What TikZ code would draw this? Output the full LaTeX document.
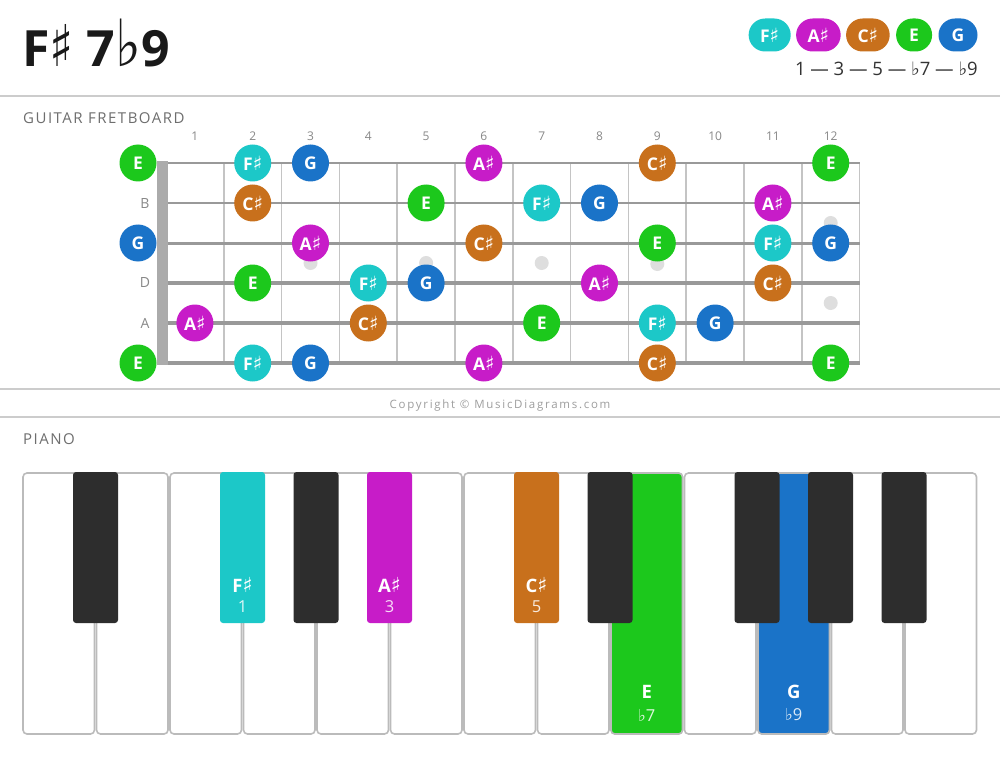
\documentclass[tikz,border=0pt]{standalone}
\usepackage{fontspec}
\setmainfont{Open Sans}
\newfontfamily\symfont{DejaVu Sans}
\usetikzlibrary{positioning}
\newcommand{\shp}{{\symfont\scalebox{1.12}{\char"266F}}}
\newcommand{\flt}{{\symfont\char"266D}}
\definecolor{cF}{HTML}{1CC8C8}
\definecolor{cA}{HTML}{C71CC8}
\definecolor{cC}{HTML}{C8701C}
\definecolor{cE}{HTML}{1CC81C}
\definecolor{cG}{HTML}{1A73C8}
\definecolor{keyblack}{HTML}{2D2D2D}
\definecolor{keyedge}{HTML}{BBBBBB}
\definecolor{rulegray}{HTML}{CCCCCC}
\definecolor{headgray}{HTML}{6E6E6E}
\definecolor{numgray}{HTML}{888888}
\definecolor{stringgray}{HTML}{999999}
\definecolor{fretgray}{HTML}{C4C4C4}
\tikzstyle{note} = [circle, minimum size=37pt, inner sep=0pt, text=white,
    font=\bfseries\fontsize{17.5}{17.5}\selectfont]
\tikzstyle{pill} = [rectangle, rounded corners=16.5pt, minimum height=33pt,
    minimum width=36pt, inner xsep=11.5pt, inner ysep=0pt, text=white,
    font=\bfseries\fontsize{17.5}{17.5}\selectfont]
\tikzstyle{heading} = [anchor=west, inner sep=0pt, text=headgray,
    font=\fontsize{15}{15}\selectfont\addfontfeature{LetterSpace=10}]
\tikzstyle{fretnum} = [text=numgray, inner sep=0pt, font=\fontsize{12}{12}\selectfont]
\tikzstyle{strlbl} = [text=numgray, inner sep=0pt, font=\fontsize{14}{14}\selectfont]
\tikzstyle{sepline} = [draw=rulegray, line width=2pt]
\tikzstyle{whitekey} = [draw=keyedge, line width=1.6pt, rounded corners=4pt]
\tikzstyle{blackkey} = [rounded corners=3pt]
\tikzstyle{keylbl} = [text=white, inner sep=0pt, font=\bfseries\fontsize{18.5}{18.5}\selectfont]
\tikzstyle{keynum} = [text=white, text opacity=0.85, inner sep=0pt, font=\fontsize{16.5}{16.5}\selectfont]

\begin{document}
\begin{tikzpicture}[x=1pt, y=-1pt]

    \useasboundingbox[fill=white] (0,0) rectangle (1000,759);

    % Title and legend
    \node [anchor=base west, inner sep=0pt, text=black!90,
        font=\bfseries\fontsize{50}{50}\selectfont] (title) at (22,67)
        {F{\symfont\scalebox{1}[1.15]{\char"266F}} 7{\symfont\scalebox{1.1}[1.3]{\char"266D}}9};
    \node [pill, fill=cG, minimum width=39pt] (lgG) at (958,35) {G};
    \node [pill, fill=cE, left=6pt of lgG] (lgE) {E};
    \node [pill, fill=cC, left=6pt of lgE] (lgC) {C\shp};
    \node [pill, fill=cA, left=5pt of lgC] (lgA) {A\shp};
    \node [pill, fill=cF, left=5pt of lgA] (lgF) {F\shp};
    \node [anchor=base east, inner sep=0pt, text=black!80,
        font=\fontsize{18.5}{18.5}\selectfont] (steps) at (978,76)
        {1 — 3 — 5 — \flt7 — \flt9};

    \path [sepline] (0,96) -- (1000,96);
    \path [sepline] (0,389) -- (1000,389);
    \path [sepline] (0,417) -- (1000,417);
    \node [text=black!38, inner sep=0pt,
        font=\fontsize{11.5}{11.5}\selectfont\addfontfeature{LetterSpace=15}] (copy) at (500,406)
        {Copyright © MusicDiagrams.com};

    % Fretboard
    \node [heading] (guitar) at (23,118) {GUITAR FRETBOARD};
    \foreach \f in {1,...,12}
        \node [fretnum] (fn\f) at ({166+57.8*(\f-0.5)},136) {\f};
    \foreach \f in {1,...,12}
        \draw [fretgray, line width=1.5pt] ({166+57.8*\f},163) -- ({166+57.8*\f},363);
    \foreach \d/\y in {3/263, 5/263, 7/263, 9/264, 12/223, 12/303}
        \fill [black!13] ({166+57.8*(\d-0.5)},\y) circle (7pt);
    \foreach \s in {1,...,6} {
        \pgfmathsetmacro{\sw}{1.5+0.5*\s}
        \draw [stringgray, line width=\sw pt] (157,{123+40*\s}) -- (860,{123+40*\s});
    }
    \fill [black!33] (157,161) rectangle (168,365);

    \node [strlbl] (sB) at (145,204) {B};
    \node [strlbl] (sD) at (145,283) {D};
    \node [strlbl] (sA) at (145,323) {A};

    % Place notes
    \foreach \s/\f/\n/\c in {1/0/E/cE, 1/2/F\shp/cF, 1/3/G/cG, 1/6/A\shp/cA, 1/9/C\shp/cC, 1/12/E/cE,
        2/2/C\shp/cC, 2/5/E/cE, 2/7/F\shp/cF, 2/8/G/cG, 2/11/A\shp/cA,
        3/0/G/cG, 3/3/A\shp/cA, 3/6/C\shp/cC, 3/9/E/cE, 3/11/F\shp/cF, 3/12/G/cG,
        4/2/E/cE, 4/4/F\shp/cF, 4/5/G/cG, 4/8/A\shp/cA, 4/11/C\shp/cC,
        5/1/A\shp/cA, 5/4/C\shp/cC, 5/7/E/cE, 5/9/F\shp/cF, 5/10/G/cG,
        6/0/E/cE, 6/2/F\shp/cF, 6/3/G/cG, 6/6/A\shp/cA, 6/9/C\shp/cC, 6/12/E/cE} {
        \pgfmathsetmacro{\nx}{\f==0 ? 138 : 166+57.8*(\f-0.5)}
        \node [note, fill=\c] (n\s-\f) at (\nx,{123+40*\s}) {\n};
    }

    % Piano
    \node [heading] (piano) at (23,439) {PIANO};
    \foreach \k in {0,...,12}
        \draw [whitekey, fill=white] ({22+73.5*\k+1},473) rectangle ({22+73.5*(\k+1)-1},734);
    \draw [whitekey, fill=cE] ({22+73.5*8+1},473) rectangle ({22+73.5*9-1},734);
    \draw [whitekey, fill=cG] ({22+73.5*10+1},473) rectangle ({22+73.5*11-1},734);
    \foreach \b/\c in {1/keyblack, 3/cF, 4/keyblack, 5/cA, 7/cC, 8/keyblack,
        10/keyblack, 11/keyblack, 12/keyblack}
        \fill [blackkey, \c] ({22+73.5*\b-22.5},472) rectangle ({22+73.5*\b+22.5},623);

    \node [keylbl] (kF) at (242.5,585) {F\shp};
    \node [keynum] (kF1) at (242.5,607) {1};
    \node [keylbl] (kA) at (389.5,585) {A\shp};
    \node [keynum] (kA3) at (389.5,607) {3};
    \node [keylbl] (kC) at (536.5,585) {C\shp};
    \node [keynum] (kC5) at (536.5,607) {5};
    \node [keylbl] (kE) at (646.75,692) {E};
    \node [keynum] (kE7) at (646.75,715) {\flt7};
    \node [keylbl] (kG) at (793.75,692) {G};
    \node [keynum] (kG9) at (793.75,715) {\flt9};

\end{tikzpicture}
\end{document}
